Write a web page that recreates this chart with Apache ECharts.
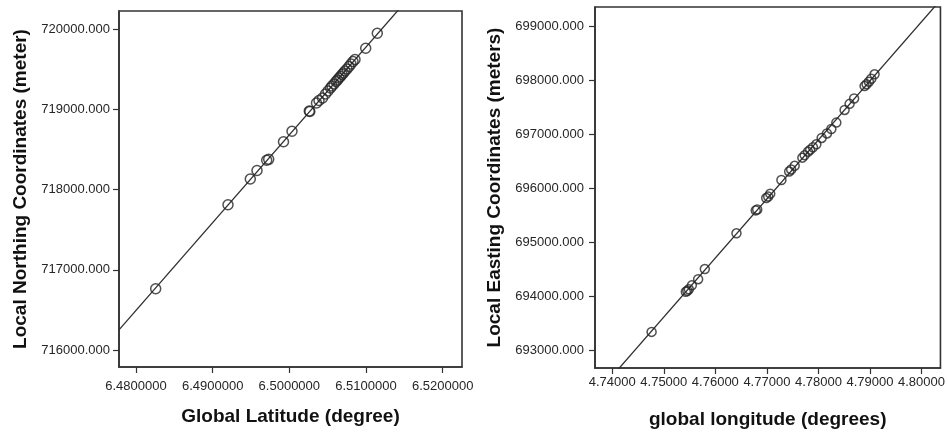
<!DOCTYPE html>
<html>
<head>
<meta charset="utf-8">
<script src="https://cdn.jsdelivr.net/npm/echarts@6/dist/echarts.min.js"></script>
<style>
  html, body { margin: 0; padding: 0; background: #fff; }
  #wrap { position: relative; width: 948px; height: 434px; overflow: hidden; }
  #leftBox { position: absolute; left: 0; top: 0; width: 473px; height: 434px; overflow: hidden; }
  #leftChart { width: 520px; height: 434px; }
  #rightChart { position: absolute; left: 473px; top: 0; width: 475px; height: 434px; }
</style>
</head>
<body>
<div id="wrap">
  <div id="leftBox"><div id="leftChart"></div></div>
  <div id="rightChart"></div>
</div>
<script>
// Survey control points: global latitude (degrees) vs local northing (m)
const latitude = [
  6.482569, 6.492000, 6.494908, 6.495782, 6.497047, 6.497308, 6.499238, 6.500347,
  6.502604, 6.502669, 6.503543, 6.503869, 6.504325, 6.504716, 6.505043, 6.505369,
  6.505564, 6.505825, 6.506086, 6.506282, 6.506477, 6.506673, 6.506869, 6.507064,
  6.507260, 6.507521, 6.507782, 6.508042, 6.508303, 6.508564, 6.509960, 6.511473
];
const northing = [
  716764, 717812, 718133, 718239, 718366, 718378, 718597, 718728,
  718981, 718975, 719081, 719112, 719143, 719193, 719230, 719268,
  719293, 719318, 719349, 719368, 719393, 719411, 719436, 719455,
  719480, 719505, 719536, 719567, 719598, 719623, 719763, 719950
];

// Global longitude (degrees) vs local easting (m)
const longitude = [
  4.747633, 4.754277, 4.754568, 4.754859, 4.755440, 4.756660, 4.757958, 4.764099,
  4.767838, 4.768129, 4.769872, 4.770260, 4.770647, 4.772817, 4.774328, 4.774715,
  4.775393, 4.776885, 4.777331, 4.777970, 4.778396, 4.778938, 4.779597, 4.780624,
  4.781651, 4.782503, 4.783472, 4.785079, 4.786048, 4.786920, 4.788954, 4.789341,
  4.789787, 4.790252, 4.790891
];
const easting = [
  693335, 694079, 694097, 694124, 694197, 694311, 694499, 695162,
  695586, 695604, 695815, 695842, 695897, 696149, 696308, 696345,
  696412, 696564, 696610, 696674, 696710, 696756, 696811, 696929,
  697012, 697094, 697213, 697447, 697560, 697660, 697889, 697925,
  697971, 698026, 698108
];

// Tick values
const latTicks = [6.48, 6.49, 6.50, 6.51, 6.52];
const northTicks = [716000, 717000, 718000, 719000, 720000];
const lonTicks = [4.74, 4.75, 4.76, 4.77, 4.78, 4.79, 4.80];
const eastTicks = [693000, 694000, 695000, 696000, 697000, 698000, 699000];

// Axis extents
const latRange = [6.477783, 6.522520];
const northRange = [715788, 720228];
const lonRange = [4.736649, 4.803676];
const eastRange = [692666, 699355];

const FONT = "'Liberation Sans', Arial, Helvetica, sans-serif";
const INK = '#262626';

// Ordinary least-squares fit y = a + b x
function fit(xs, ys) {
  const n = xs.length;
  let sx = 0, sy = 0, sxx = 0, sxy = 0;
  for (let i = 0; i < n; i++) {
    sx += xs[i]; sy += ys[i]; sxx += xs[i] * xs[i]; sxy += xs[i] * ys[i];
  }
  const mx = sx / n, my = sy / n;
  const b = (sxy - n * mx * my) / (sxx - n * mx * mx);
  return { a: my - b * mx, b: b };
}

function buildOption(cfg) {
  const f = fit(cfg.xs, cfg.ys);
  const lineData = cfg.xRange.map(x => [x, f.a + f.b * x]);
  const pts = cfg.xs.map((x, i) => [x, cfg.ys[i]]);
  return {
    animation: false,
    backgroundColor: '#fff',
    grid: {
      left: cfg.grid[0], top: cfg.grid[1], width: cfg.grid[2], height: cfg.grid[3],
      show: true, borderColor: '#333', borderWidth: 1.6, backgroundColor: '#fff'
    },
    xAxis: {
      type: 'value',
      min: cfg.xRange[0], max: cfg.xRange[1],
      name: cfg.xName, nameLocation: 'middle', nameGap: cfg.xNameGap,
      nameTextStyle: { fontFamily: FONT, fontSize: 19, fontWeight: 'bold', color: '#111' },
      axisLine: { show: true, lineStyle: { color: '#333', width: 1.6 } },
      axisTick: { show: true, length: 6, customValues: cfg.xTicks, lineStyle: { color: '#333', width: 1.2 } },
      axisLabel: {
        customValues: cfg.xTicks, margin: cfg.xLabelMargin,
        fontFamily: FONT, fontSize: 13, color: INK,
        formatter: v => Number(v).toFixed(cfg.xDigits)
      },
      splitLine: { show: false }
    },
    yAxis: {
      type: 'value',
      min: cfg.yRange[0], max: cfg.yRange[1],
      name: cfg.yName, nameLocation: 'middle', nameGap: cfg.yNameGap,
      nameTextStyle: { fontFamily: FONT, fontSize: 19, fontWeight: 'bold', color: '#111' },
      axisLine: { show: true, lineStyle: { color: '#333', width: 1.6 } },
      axisTick: { show: true, length: 6, customValues: cfg.yTicks, lineStyle: { color: '#333', width: 1.2 } },
      axisLabel: {
        customValues: cfg.yTicks, margin: cfg.yLabelMargin,
        fontFamily: FONT, fontSize: 13, color: INK,
        formatter: v => Number(v).toFixed(3)
      },
      splitLine: { show: false }
    },
    series: [
      {
        type: 'line',
        data: lineData,
        symbol: 'none',
        clip: true,
        lineStyle: { color: '#2e2e2e', width: 1.3 },
        z: 2
      },
      {
        type: 'scatter',
        data: pts,
        symbol: 'circle',
        symbolSize: cfg.symbolSize,
        itemStyle: { color: 'rgba(0,0,0,0)', borderColor: '#262626', borderWidth: 1.5 },
        z: 3
      }
    ]
  };
}

const leftChart = echarts.init(document.getElementById('leftChart'), null, { renderer: 'canvas' });
leftChart.setOption(buildOption({
  xs: latitude, ys: northing,
  xRange: latRange, yRange: northRange,
  xTicks: latTicks, yTicks: northTicks,
  xDigits: 7,
  grid: [119, 11, 343, 356],
  xName: 'Global Latitude (degree)', xNameGap: 40, xLabelMargin: 13,
  yName: 'Local Northing Coordinates (meter)', yNameGap: 83, yLabelMargin: 9,
  symbolSize: 10
}));

const rightChart = echarts.init(document.getElementById('rightChart'), null, { renderer: 'canvas' });
rightChart.setOption(buildOption({
  xs: longitude, ys: easting,
  xRange: lonRange, yRange: eastRange,
  xTicks: lonTicks, yTicks: eastTicks,
  xDigits: 5,
  grid: [122, 7, 346, 366],
  xName: 'global longitude (degrees)', xNameGap: 42, xLabelMargin: 8,
  yName: 'Local Easting Coordinates (meters)', yNameGap: 91, yLabelMargin: 11,
  symbolSize: 9
}));
</script>
</body>
</html>
